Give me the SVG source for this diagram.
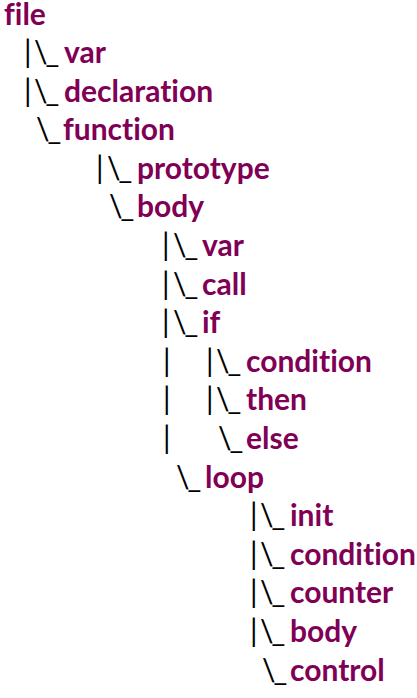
<svg xmlns="http://www.w3.org/2000/svg" width="417" height="698" viewBox="0 0 417 698">
<style>
text{font-family:Lato,"Liberation Sans",sans-serif;font-weight:bold;font-size:30px;font-variant-ligatures:none;font-feature-settings:"liga" 0,"clig" 0}
.n{fill:#7F0055}
.c{fill:#000;font-weight:normal;letter-spacing:-2px}
</style>
<rect width="417" height="698" fill="#fff"/>
<g id="connectors" class="c">
<text class="c" x="24" y="63">|</text><text class="c" x="34" y="63">\_</text>
<text class="c" x="24" y="101.6">|</text><text class="c" x="34" y="101.6">\_</text>
<text class="c" x="36" y="140.2">\_</text>
<text class="c" x="96" y="178.8">|</text><text class="c" x="107" y="178.8">\_</text>
<text class="c" x="109" y="217.4">\_</text>
<text class="c" x="162" y="256">|</text><text class="c" x="173" y="256">\_</text>
<text class="c" x="162" y="294.6">|</text><text class="c" x="173" y="294.6">\_</text>
<text class="c" x="162" y="333.2">|</text><text class="c" x="173" y="333.2">\_</text>
<text class="c" x="163" y="371.8">|</text><text class="c" x="206" y="371.8">|</text><text class="c" x="216" y="371.8">\_</text>
<text class="c" x="163" y="410.4">|</text><text class="c" x="206" y="410.4">|</text><text class="c" x="216" y="410.4">\_</text>
<text class="c" x="163" y="449">|</text><text class="c" x="218" y="449">\_</text>
<text class="c" x="176" y="487.6">\_</text>
<text class="c" x="250" y="526.2">|</text><text class="c" x="260" y="526.2">\_</text>
<text class="c" x="250" y="564.8">|</text><text class="c" x="260" y="564.8">\_</text>
<text class="c" x="250" y="603.4">|</text><text class="c" x="260" y="603.4">\_</text>
<text class="c" x="250" y="642">|</text><text class="c" x="260" y="642">\_</text>
<text class="c" x="262" y="680.6">\_</text>
</g>
<g id="file"><text class="n" x="4" y="25">file</text></g>
<g id="var1"><text class="n" x="64" y="63">var</text></g>
<g id="declaration"><text class="n" x="64" y="101.6">declaration</text></g>
<g id="function"><text class="n" x="63" y="140.2">function</text></g>
<g id="prototype"><text class="n" x="137" y="178.8">prototype</text></g>
<g id="body1"><text class="n" x="137" y="217.4">body</text></g>
<g id="var2"><text class="n" x="202" y="256">var</text></g>
<g id="call"><text class="n" x="202" y="294.6">call</text></g>
<g id="if"><text class="n" x="202" y="333.2">if</text></g>
<g id="condition1"><text class="n" x="246" y="371.8">condition</text></g>
<g id="then"><text class="n" x="246" y="410.4">then</text></g>
<g id="else"><text class="n" x="246" y="449">else</text></g>
<g id="loop"><text class="n" x="205" y="487.6">loop</text></g>
<g id="init"><text class="n" x="290" y="526.2">init</text></g>
<g id="condition2"><text class="n" x="290" y="564.8">condition</text></g>
<g id="counter"><text class="n" x="290" y="603.4">counter</text></g>
<g id="body2"><text class="n" x="290" y="642">body</text></g>
<g id="control"><text class="n" x="290" y="680.6">control</text></g>
</svg>
